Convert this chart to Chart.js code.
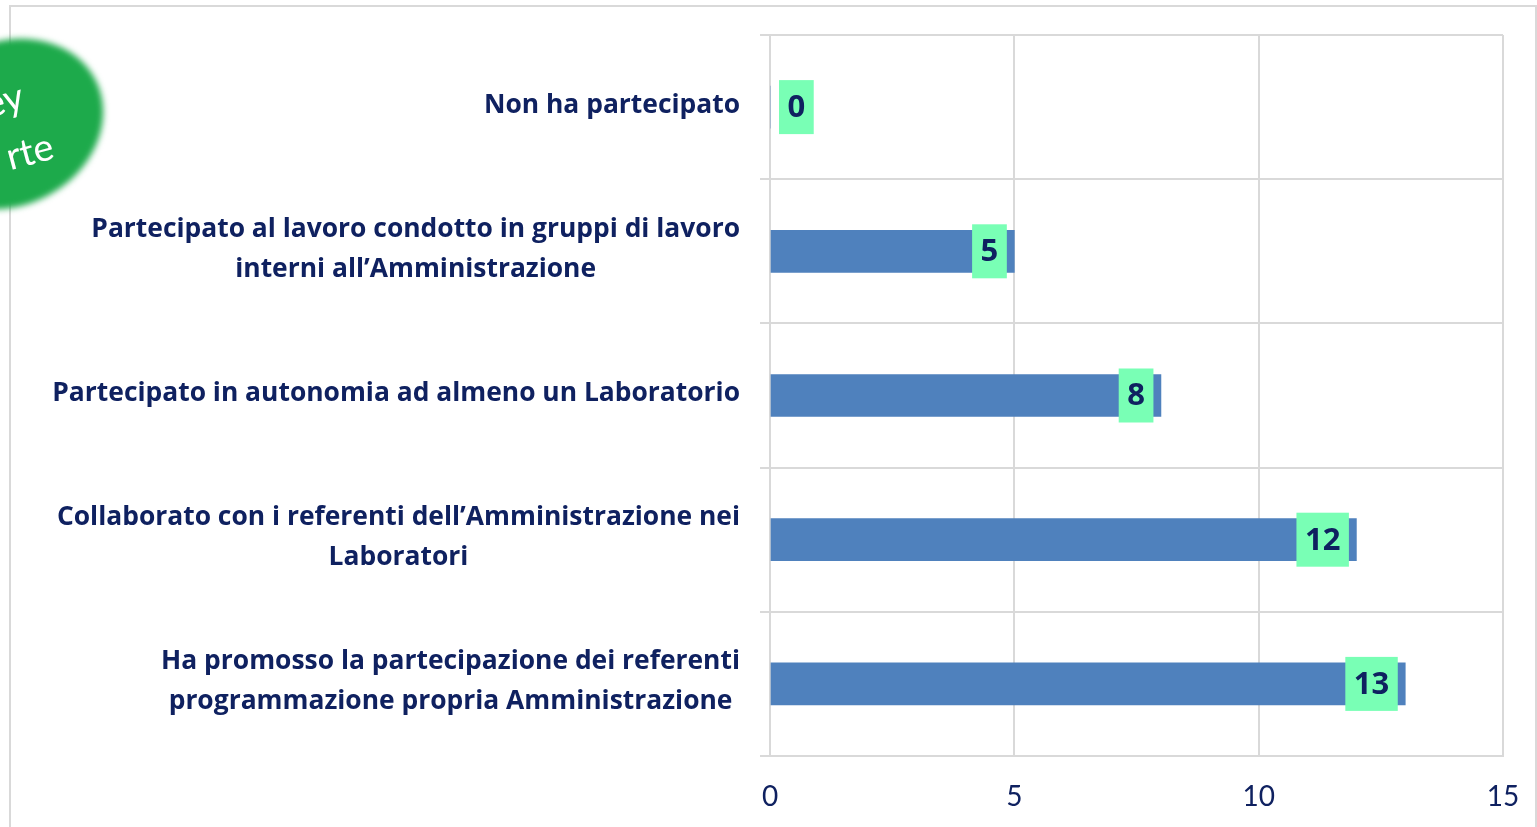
<!DOCTYPE html>
<html>
<head>
<meta charset="utf-8">
<script src="https://cdn.jsdelivr.net/npm/chart.js"></script>
<style>
  html, body { margin: 0; padding: 0; background: #fff; }
  .chart-parent { width: 1537px; height: 827px; position: relative; }
</style>
</head>
<body>
<div class="chart-parent">
  <canvas id="myChart"></canvas>
</div>
<script>
// categories (top to bottom) and values
const categories = [
  ["Non ha partecipato"],
  ["Partecipato al lavoro condotto in gruppi di lavoro", "interni all\u2019Amministrazione"],
  ["Partecipato in autonomia ad almeno un Laboratorio"],
  ["Collaborato con i referenti dell\u2019Amministrazione nei", "Laboratori"],
  ["Ha promosso la partecipazione dei referenti", "programmazione propria Amministrazione"]
];
const values = [0, 5, 8, 12, 13];
const xTicks = [0, 5, 10, 15];
const badgeLines = ["ey", "rte"];

const NAVY = "#0F2160";
const GRID = "#d9d9d9";
const FONT = "'Open Sans'";

// frame + green badge in the corner
const backdrop = {
  id: "backdrop",
  beforeDraw(chart) {
    const c = chart.ctx;
    c.save();
    c.strokeStyle = GRID;
    c.lineWidth = 2;
    c.beginPath();
    c.moveTo(10, 827); c.lineTo(10, 6); c.lineTo(1536, 6); c.lineTo(1536, 827);
    c.stroke();
    c.restore();
  },
  afterDraw(chart) {
    const c = chart.ctx;
    c.save();
    c.filter = "blur(3px)";
    c.fillStyle = "#1DAA4B";
    c.beginPath();
    c.ellipse(8, 124, 98, 82, -0.45, 0, Math.PI * 2);
    c.fill();
    c.filter = "none";
    c.fillStyle = "#ffffff";
    c.font = "38px Lato";
    c.textAlign = "right";
    c.save();
    c.translate(26, 108);
    c.rotate(-0.26);
    c.fillText(badgeLines[0], 0, 0);
    c.restore();
    c.save();
    c.translate(56, 158);
    c.rotate(-0.26);
    c.fillText(badgeLines[1], 0, 0);
    c.restore();
    c.restore();
  }
};

// category labels: block right-aligned, lines centered
const catLabels = {
  id: "catLabels",
  afterDraw(chart) {
    const c = chart.ctx;
    const ys = chart.scales.y;
    c.save();
    // size the font so the widest line spans from x=52 to x=740
    c.font = "bold 100px " + FONT;
    let widest = 0;
    categories.forEach(lines => lines.forEach(l => { widest = Math.max(widest, c.measureText(l).width); }));
    const size = Math.min(28, 100 * 688 / widest);
    c.font = "bold " + size.toFixed(2) + "px " + FONT;
    c.fillStyle = NAVY;
    c.textAlign = "center";
    c.textBaseline = "middle";
    categories.forEach((lines, i) => {
      const yc = ys.getPixelForValue(i) - 2;
      const maxW = Math.max(...lines.map(l => c.measureText(l).width));
      const cx = 740 - maxW / 2;
      const lh = 40;
      const y0 = yc - (lines.length - 1) * lh / 2;
      lines.forEach((l, k) => c.fillText(l, cx, y0 + k * lh));
    });
    c.restore();
  }
};

// value boxes at the end of each bar
const valueBoxes = {
  id: "valueBoxes",
  afterDatasetsDraw(chart) {
    const c = chart.ctx;
    const meta = chart.getDatasetMeta(0);
    c.save();
    c.font = "bold 31px " + FONT;
    c.textAlign = "center";
    c.textBaseline = "middle";
    meta.data.forEach((bar, i) => {
      const txt = String(values[i]);
      const w = c.measureText(txt).width + 17;
      const h = 54;
      const right = Math.max(bar.x - 7.5, bar.base + 9 + w);
      c.fillStyle = "#79FFB5";
      c.fillRect(right - w, bar.y - h / 2, w, h);
      c.fillStyle = NAVY;
      c.fillText(txt, right - w / 2, bar.y + 1);
    });
    c.restore();
  }
};

const ctx = document.getElementById("myChart");
new Chart(ctx, {
  type: "bar",
  data: {
    labels: categories,
    datasets: [{
      data: values,
      backgroundColor: "#4F81BD",
      barThickness: 42
    }]
  },
  options: {
    indexAxis: "y",
    responsive: true,
    maintainAspectRatio: false,
    animation: false,
    layout: { padding: { top: 35, right: 34, left: 0, bottom: 0 } },
    plugins: { legend: { display: false }, tooltip: { enabled: false } },
    scales: {
      x: {
        min: 0,
        max: 15,
        afterBuildTicks: (s) => { s.ticks = xTicks.map(v => ({ value: v })); },
        afterFit: (s) => { s.height = 71; },
        grid: { color: GRID, lineWidth: 2, drawTicks: true, tickLength: 24, tickColor: "rgba(0,0,0,0)" },
        border: { color: GRID, width: 2 },
        ticks: { color: NAVY, font: { family: "Lato", size: 28 }, padding: 0 }
      },
      y: {
        afterFit: (s) => { s.width = 770; },
        grid: { color: GRID, lineWidth: 2, tickLength: 10, offset: true },
        border: { color: GRID, width: 2 },
        ticks: { display: false }
      }
    }
  },
  plugins: [backdrop, catLabels, valueBoxes]
});
</script>
</body>
</html>
